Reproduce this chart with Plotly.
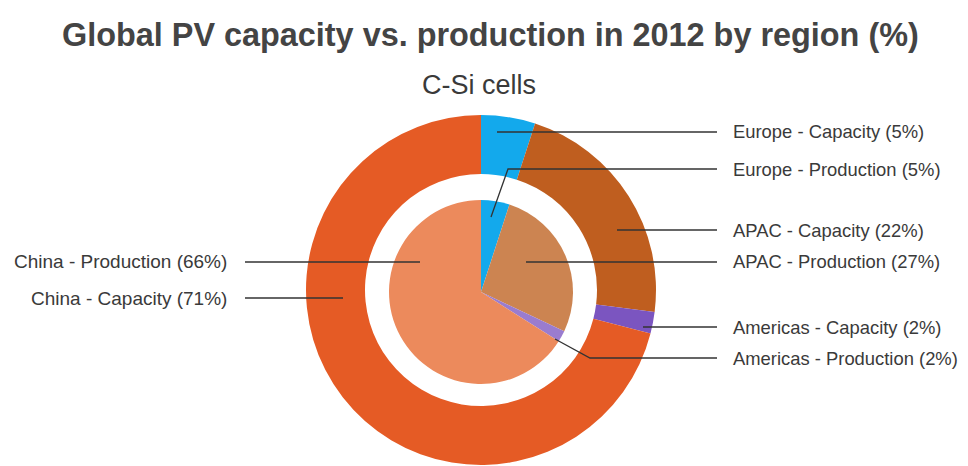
import plotly.graph_objects as go

regions = ["Europe", "APAC", "Americas", "China"]
capacity = [5, 22, 2, 71]
production = [5, 27, 2, 66]
cap_colors = ["#13A9EC", "#BF5E1F", "#7B55C0", "#E55B25"]
prod_colors = ["#13A9EC", "#CC8451", "#9A7CCF", "#EC8A5C"]

# the page body has an 8px margin; figure is sized to fill the visible window
OFF = 8
W, H = 968 - OFF, 466 - OFF
cx, cy = 481 - OFF, 290 - OFF
R_out, R_in = 175, 92

def px2x(x):
    return (x - OFF) / W

def px2y(y):
    return 1 - (y - OFF) / H

fig = go.Figure()
fig.add_trace(go.Pie(
    labels=regions, values=capacity, hole=116 / R_out, sort=False,
    direction="clockwise", rotation=0, textinfo="none", hoverinfo="label+percent",
    marker=dict(colors=cap_colors, line=dict(width=0)),
    domain=dict(x=[(cx - R_out) / W, (cx + R_out) / W], y=[max(0, 1 - (cy + R_out) / H), 1 - (cy - R_out) / H]),
    showlegend=False,
))
fig.add_trace(go.Pie(
    labels=regions, values=production, sort=False,
    direction="clockwise", rotation=0, textinfo="none", hoverinfo="label+percent",
    marker=dict(colors=prod_colors, line=dict(width=0)),
    domain=dict(x=[(cx - R_in) / W, (cx + R_in) / W], y=[1 - (cy + 2 + R_in) / H, 1 - (cy + 2 - R_in) / H]),
    showlegend=False,
))

# leader lines (screen-pixel paths) and labels
lines = [
    [(497, 132), (717, 132)],
    [(491, 217), (508, 169), (717, 169)],
    [(617, 230), (717, 230)],
    [(526, 262), (717, 262)],
    [(643, 327), (717, 327)],
    [(555, 339), (590, 358), (717, 358)],
    [(245, 262), (420, 262)],
    [(245, 298), (343, 298)],
]
for pts in lines:
    path = "M " + " L ".join(f"{px2x(x)},{px2y(y)}" for x, y in pts)
    fig.add_shape(type="path", path=path, xref="paper", yref="paper",
                  line=dict(color="#333333", width=1.3))

right_labels = [
    (f"Europe - Capacity ({capacity[0]}%)", 132),
    (f"Europe - Production ({production[0]}%)", 169),
    (f"APAC - Capacity ({capacity[1]}%)", 230),
    (f"APAC - Production ({production[1]}%)", 262),
    (f"Americas - Capacity ({capacity[2]}%)", 327),
    (f"Americas - Production ({production[2]}%)", 358),
]
for txt, y in right_labels:
    fig.add_annotation(text=txt, x=px2x(731), y=px2y(y), xref="paper", yref="paper",
                       xanchor="left", yanchor="middle", showarrow=False,
                       font=dict(size=18.4, color="#3a3a3a", family="Liberation Sans, Arial"))
left_labels = [
    (f"China - Production ({production[3]}%)", 262),
    (f"China - Capacity ({capacity[3]}%)", 298),
]
for txt, y in left_labels:
    fig.add_annotation(text=txt, x=px2x(229), y=px2y(y), xref="paper", yref="paper",
                       xanchor="right", yanchor="middle", showarrow=False,
                       font=dict(size=19, color="#3a3a3a", family="Liberation Sans, Arial"))

fig.add_annotation(text="<b>Global PV capacity vs. production in 2012 by region (%)</b>",
                   x=px2x(490), y=px2y(35), xref="paper", yref="paper",
                   xanchor="center", yanchor="middle", showarrow=False,
                   font=dict(size=32.4, color="#444444", family="Liberation Sans, Arial"))
fig.add_annotation(text="C-Si cells", x=px2x(479), y=px2y(85), xref="paper", yref="paper",
                   xanchor="center", yanchor="middle", showarrow=False,
                   font=dict(size=27, color="#3a3a3a", family="Liberation Sans, Arial"))

fig.update_layout(width=W, height=H, margin=dict(l=0, r=0, t=0, b=0),
                  paper_bgcolor="white", plot_bgcolor="white")
fig.write_html("out.html")
